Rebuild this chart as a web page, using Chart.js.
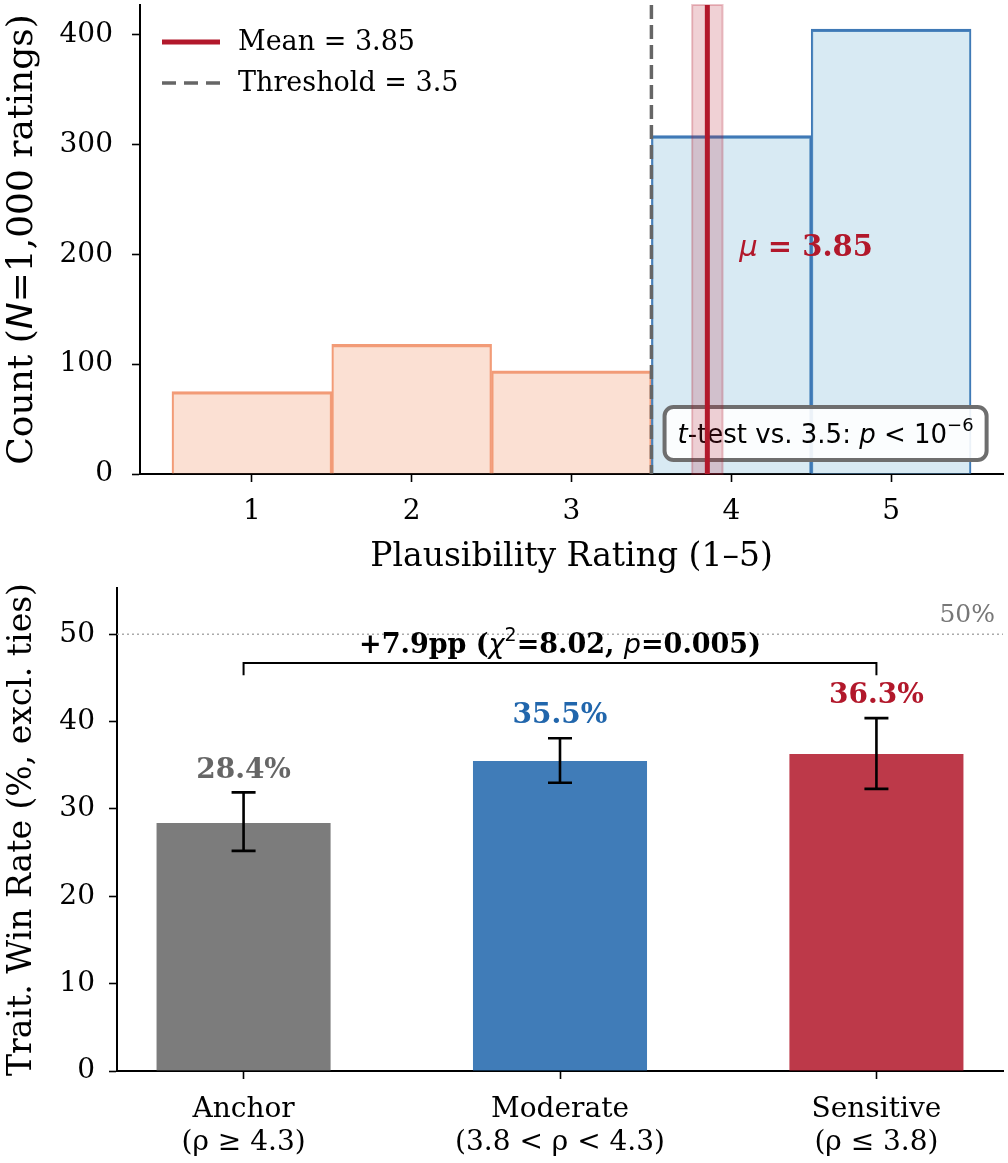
<!DOCTYPE html>
<html>
<head>
<meta charset="utf-8">
<script src="https://cdn.jsdelivr.net/npm/chart.js@4.4.1/dist/chart.umd.min.js"></script>
<style>
  html, body { margin: 0; padding: 0; background: #fff; }
  #wrap { position: relative; width: 1008px; height: 1163px; }
  #histChart { position: absolute; left: 0; top: 0; }
  #winChart { position: absolute; left: 0; top: 580px; }
</style>
</head>
<body>
<div id="wrap">
  <canvas id="histChart" width="1008" height="580"></canvas>
  <canvas id="winChart" width="1008" height="583"></canvas>
</div>
<script>
// ---- data: rating histogram ----
const ratingBins = [1, 2, 3, 4, 5];
const ratingCounts = [75, 118, 94, 308, 405];
const ratingTicks = [1, 2, 3, 4, 5];
const countTicks = [0, 100, 200, 300, 400];
const meanRating = 3.85;
const meanBand = [3.755, 3.945];
const threshold = 3.5;

// ---- data: win rate by tier ----
const tierNames = ['Anchor', 'Moderate', 'Sensitive'];
const tierRanges = ['(ρ ≥ 4.3)', '(3.8 < ρ < 4.3)', '(ρ ≤ 3.8)'];
const winRates = [28.4, 35.5, 36.3];
const winLow = [25.2, 33.0, 32.3];
const winHigh = [31.9, 38.1, 40.4];
const winTicks = [0, 10, 20, 30, 40, 50];

const SERIF = "'DejaVu Serif', serif";
const SANS = "'DejaVu Sans', sans-serif";
const RED = '#b2182b';
const BLUE = '#2166ac';
const GRAY = '#666666';

// draw a run of differently styled text pieces on one baseline
function drawRich(ctx, parts, x, y, align) {
  let total = 0;
  parts.forEach(p => { ctx.font = p.font; p.w = ctx.measureText(p.text).width; total += p.w; });
  let cx = align === 'center' ? x - total / 2 : align === 'right' ? x - total : x;
  ctx.textAlign = 'left';
  parts.forEach(p => { ctx.font = p.font; ctx.fillText(p.text, cx, y + (p.dy || 0)); cx += p.w; });
  return total;
}

function axisBase(extra) {
  return Object.assign({
    offset: false,
    grid: { display: true, offset: false, drawOnChartArea: false, drawTicks: true, tickLength: 8, tickWidth: 1.6, tickColor: '#000' },
    border: { display: true, color: '#000', width: 2 },
  }, extra);
}

// ---------------- top: histogram ----------------
const histOverlay = {
  id: 'histOverlay',
  afterDatasetsDraw(chart) {
    const { ctx, chartArea: a, scales: { x, y } } = chart;
    ctx.save();

    // t-test box
    ctx.fillStyle = '#000';
    ctx.textBaseline = 'alphabetic';
    const tParts = [
      { text: 't', font: `italic 26px ${SANS}` },
      { text: '-test vs. 3.5: ', font: `26px ${SANS}` },
      { text: 'p', font: `italic 26px ${SANS}` },
      { text: ' < 10', font: `26px ${SANS}` },
      { text: '−6', font: `18px ${SANS}`, dy: -12 },
    ];
    let tw = 0;
    tParts.forEach(p => { ctx.font = p.font; tw += ctx.measureText(p.text).width; });
    const bw = tw + 26, bh = 53;
    const bRight = a.right - 0.019 * (a.right - a.left);
    const bBottom = a.bottom - 0.03 * (a.bottom - a.top);
    ctx.beginPath();
    ctx.roundRect(bRight - bw, bBottom - bh, bw, bh, 9);
    ctx.fillStyle = 'rgba(255,255,255,0.9)';
    ctx.fill();
    ctx.lineWidth = 4;
    ctx.strokeStyle = '#6e6e6e';
    ctx.stroke();
    ctx.fillStyle = '#000';
    drawRich(ctx, tParts, bRight - bw + 13, bBottom - 17, 'left');

    // mean band
    const b0 = x.getPixelForValue(meanBand[0]), b1 = x.getPixelForValue(meanBand[1]);
    ctx.fillStyle = 'rgba(178,24,43,0.2)';
    ctx.fillRect(b0, a.top, b1 - b0, a.bottom - a.top);
    ctx.strokeStyle = 'rgba(178,24,43,0.25)';
    ctx.lineWidth = 2;
    ctx.strokeRect(b0, a.top, b1 - b0, a.bottom - a.top);

    // threshold
    const tx = x.getPixelForValue(threshold);
    ctx.strokeStyle = GRAY;
    ctx.lineWidth = 3.5;
    ctx.setLineDash([14, 6]);
    ctx.beginPath();
    ctx.moveTo(tx, a.top);
    ctx.lineTo(tx, a.bottom);
    ctx.stroke();
    ctx.setLineDash([]);

    // mean line
    const mx = x.getPixelForValue(meanRating);
    ctx.strokeStyle = RED;
    ctx.lineWidth = 5;
    ctx.beginPath();
    ctx.moveTo(mx, a.top);
    ctx.lineTo(mx, a.bottom);
    ctx.stroke();

    // mu label
    ctx.fillStyle = RED;
    ctx.textBaseline = 'middle';
    drawRich(ctx, [
      { text: 'μ', font: `italic 29px ${SANS}` },
      { text: ' = 3.85', font: `bold 29px ${SERIF}` },
    ], x.getPixelForValue(4.05), y.getPixelForValue(205), 'left');

    // legend
    const lx = a.left + 22;
    const rows = [a.top + 37, a.top + 78];
    ctx.lineWidth = 5;
    ctx.strokeStyle = RED;
    ctx.beginPath(); ctx.moveTo(lx, rows[0]); ctx.lineTo(lx + 58, rows[0]); ctx.stroke();
    ctx.lineWidth = 3.5;
    ctx.strokeStyle = GRAY;
    ctx.setLineDash([14, 8]);
    ctx.beginPath(); ctx.moveTo(lx, rows[1]); ctx.lineTo(lx + 58, rows[1]); ctx.stroke();
    ctx.setLineDash([]);
    ctx.fillStyle = '#000';
    ctx.font = `27px ${SERIF}`;
    ctx.textAlign = 'left';
    ctx.fillText('Mean = 3.85', lx + 76, rows[0] + 1);
    ctx.fillText('Threshold = 3.5', lx + 76, rows[1] + 1);

    // y title with italic N
    ctx.save();
    ctx.translate(23, (a.top + a.bottom) / 2);
    ctx.rotate(-Math.PI / 2);
    ctx.textBaseline = 'middle';
    drawRich(ctx, [
      { text: 'Count (', font: `36px ${SERIF}` },
      { text: 'N', font: `italic 36px ${SANS}` },
      { text: '=1,000 ratings)', font: `36px ${SERIF}` },
    ], 0, 0, 'center');
    ctx.restore();

    ctx.restore();
  }
};

new Chart(document.getElementById('histChart'), {
  type: 'bar',
  data: {
    datasets: [{
      data: ratingBins.map((b, i) => ({ x: b, y: ratingCounts[i] })),
      backgroundColor: ratingBins.map(b => b <= 3 ? 'rgba(244,165,130,0.35)' : 'rgba(146,197,222,0.36)'),
      borderColor: ratingBins.map(b => b <= 3 ? '#f29b77' : '#3f79b6'),
      borderWidth: { top: 2.6, left: 1.6, right: 1.6, bottom: 0 },
      borderSkipped: 'bottom',
      barPercentage: 1,
      categoryPercentage: 1,
    }]
  },
  options: {
    responsive: false,
    animation: false,
    layout: { padding: { top: 5, right: 5, left: 0, bottom: 0 } },
    plugins: { legend: { display: false }, tooltip: { enabled: false } },
    scales: {
      x: axisBase({
        type: 'linear', min: 0.3, max: 5.7,
        afterBuildTicks: s => { s.ticks = ratingTicks.map(v => ({ value: v })); },
        afterFit: s => { s.height = 106; s.paddingLeft = 0; s.paddingRight = 0; },
        ticks: { color: '#000', autoSkip: false, maxRotation: 0, font: { family: SERIF, size: 28 }, padding: 13 },
        title: { display: true, text: 'Plausibility Rating (1–5)', color: '#000', font: { family: SERIF, size: 33 }, padding: { top: 0, bottom: 3 } },
      }),
      y: axisBase({
        min: 0, max: 427,
        afterBuildTicks: s => { s.ticks = countTicks.map(v => ({ value: v })); },
        afterFit: s => { s.width = 140; s.paddingTop = 0; s.paddingBottom = 0; },
        ticks: { color: '#000', autoSkip: false, font: { family: SERIF, size: 28 }, padding: 19 },
      }),
    }
  },
  plugins: [histOverlay]
});

// ---------------- bottom: win rate by tier ----------------
const winOverlay = {
  id: 'winOverlay',
  beforeDatasetsDraw(chart) {
    const { ctx, chartArea: a, scales: { y } } = chart;
    const y50 = y.getPixelForValue(50);
    ctx.save();
    ctx.strokeStyle = '#aaaaaa';
    ctx.lineWidth = 1.6;
    ctx.setLineDash([2, 3]);
    ctx.beginPath();
    ctx.moveTo(a.left, y50);
    ctx.lineTo(a.right, y50);
    ctx.stroke();
    ctx.setLineDash([]);
    ctx.fillStyle = '#777777';
    ctx.font = `25px ${SERIF}`;
    ctx.textAlign = 'right';
    ctx.textBaseline = 'alphabetic';
    ctx.fillText('50%', a.right - 8, y50 - 12);
    ctx.restore();
  },
  afterDatasetsDraw(chart) {
    const { ctx, scales: { x, y } } = chart;
    const labelColors = [GRAY, BLUE, RED];
    ctx.save();
    winRates.forEach((v, i) => {
      const cx = x.getPixelForValue(i);
      const yl = y.getPixelForValue(winLow[i]);
      const yh = y.getPixelForValue(winHigh[i]);
      ctx.strokeStyle = '#000';
      ctx.lineWidth = 2.6;
      ctx.beginPath();
      ctx.moveTo(cx, yl); ctx.lineTo(cx, yh);
      ctx.moveTo(cx - 12, yl); ctx.lineTo(cx + 12, yl);
      ctx.moveTo(cx - 12, yh); ctx.lineTo(cx + 12, yh);
      ctx.stroke();
      ctx.fillStyle = labelColors[i];
      ctx.font = `bold 28px ${SERIF}`;
      ctx.textAlign = 'center';
      ctx.textBaseline = 'alphabetic';
      ctx.fillText(v.toFixed(1) + '%', cx, y.getPixelForValue(winHigh[i] + 1.7));
    });

    // significance bracket Anchor vs Sensitive
    const x0 = x.getPixelForValue(0), x2 = x.getPixelForValue(2);
    const yb = y.getPixelForValue(46.7), yt = y.getPixelForValue(45.3);
    ctx.strokeStyle = '#000';
    ctx.lineWidth = 2;
    ctx.beginPath();
    ctx.moveTo(x0, yt); ctx.lineTo(x0, yb); ctx.lineTo(x2, yb); ctx.lineTo(x2, yt);
    ctx.stroke();
    ctx.fillStyle = '#000';
    ctx.textBaseline = 'alphabetic';
    drawRich(ctx, [
      { text: '+7.9pp (', font: `bold 27px ${SERIF}` },
      { text: 'χ', font: `italic 27px ${SANS}` },
      { text: '2', font: `19px ${SANS}`, dy: -12 },
      { text: '=8.02, ', font: `bold 27px ${SERIF}` },
      { text: 'p', font: `italic 27px ${SANS}` },
      { text: '=0.005)', font: `bold 27px ${SERIF}` },
    ], (x0 + x2) / 2, y.getPixelForValue(47.9), 'center');
    ctx.restore();
  }
};

new Chart(document.getElementById('winChart'), {
  type: 'bar',
  data: {
    datasets: [{
      data: winRates.map((v, i) => ({ x: i, y: v })),
      backgroundColor: ['rgba(102,102,102,0.86)', 'rgba(33,102,172,0.86)', 'rgba(178,24,43,0.86)'],
      borderWidth: 0,
      barPercentage: 0.55,
      categoryPercentage: 1,
    }]
  },
  options: {
    responsive: false,
    animation: false,
    layout: { padding: { top: 8, right: 5, left: 0, bottom: 0 } },
    plugins: { legend: { display: false }, tooltip: { enabled: false } },
    scales: {
      x: axisBase({
        type: 'linear', min: -0.4, max: 2.4,
        afterBuildTicks: s => { s.ticks = tierNames.map((n, i) => ({ value: i })); },
        afterFit: s => { s.height = 92; s.paddingLeft = 0; s.paddingRight = 0; },
        ticks: {
          color: '#000', autoSkip: false, maxRotation: 0, padding: 15,
          font: { family: SERIF, size: 28, lineHeight: 1.15 },
          callback: v => [tierNames[v], tierRanges[v]],
        },
      }),
      y: axisBase({
        min: 0, max: 55.3,
        afterBuildTicks: s => { s.ticks = winTicks.map(v => ({ value: v })); },
        afterFit: s => { s.width = 117; s.paddingTop = 0; s.paddingBottom = 0; },
        ticks: { color: '#000', autoSkip: false, font: { family: SERIF, size: 28 }, padding: 14 },
        title: { display: true, text: 'Trait. Win Rate (%, excl. ties)', color: '#000', font: { family: SERIF, size: 33 }, padding: { top: 3, bottom: 0 } },
      }),
    }
  },
  plugins: [winOverlay]
});
</script>
</body>
</html>
